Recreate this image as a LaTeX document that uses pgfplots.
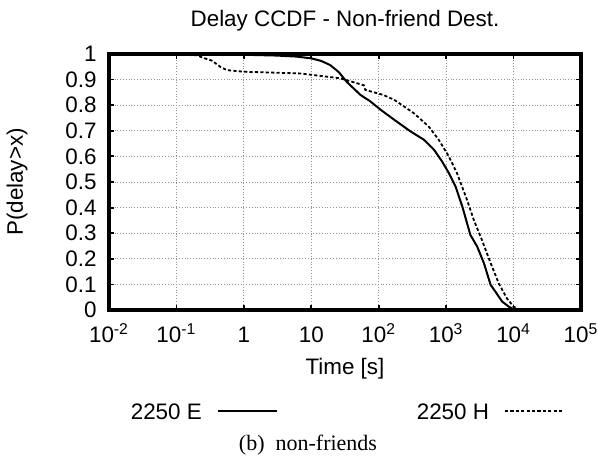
\documentclass[border=0pt]{standalone}
\usepackage{fontspec}
\setmainfont{Liberation Sans}
\newfontfamily\seriffont{Liberation Serif}
\usepackage{pgfplots}
\pgfplotsset{compat=1.18}
\begin{document}
\fontsize{11.2}{13.4}\selectfont
\begin{tikzpicture}
\path[use as bounding box] (-54.5pt,-72.5pt) rectangle (244.5pt,155pt);
\begin{axis}[
  at={(0pt,0pt)}, anchor=south west,
  scale only axis,
  width=236pt, height=128pt,
  xmode=log,
  xmin=1e-2, xmax=1e5,
  ymin=0, ymax=1,
  xtick={1e-2,1e-1,1,10,1e2,1e3,1e4,1e5},
  xticklabels={10\textsuperscript{-2},10\textsuperscript{-1},1,10,10\textsuperscript{2},10\textsuperscript{3},10\textsuperscript{4},10\textsuperscript{5}},
  ytick={0,0.1,0.2,0.3,0.4,0.5,0.6,0.7,0.8,0.9,1},
  yticklabels={0,0.1,0.2,0.3,0.4,0.5,0.6,0.7,0.8,0.9,1},
  xminorticks=false, yminorticks=false,
  /pgf/number format/assume math mode=true,
  tick align=inside,
  major tick length=2.5pt,
  tick style={line width=0.9pt, black},
  axis line style={line width=1.6pt},
  grid=major,
  major grid style={densely dotted, line width=0.45pt, gray!85},
  xticklabel style={anchor=base, yshift=-16pt, inner sep=0pt},
  yticklabel style={anchor=east, xshift=-6pt, inner sep=0pt},
  title={Delay CCDF - Non-friend Dest.},
  title style={at={(axis description cs:0.5,1)}, anchor=base, yshift=7.5pt, inner sep=0pt},
  xlabel={Time [s]},
  xlabel style={at={(axis description cs:0.5,0)}, anchor=base, yshift=-32pt, inner sep=0pt},
  ylabel={P(delay>x)},
  ylabel style={at={([xshift=-43pt]axis description cs:0,0.5)}, anchor=base, inner sep=0pt},
  legend columns=2,
  legend plot pos=right,
  legend style={draw=none, fill=none, at={(axis description cs:0.506,-0.402)}, anchor=center,
    nodes={inner sep=0pt, anchor=base},
    /tikz/every even column/.append style={column sep=69.5pt},
    /tikz/every odd column/.append style={column sep=7.5pt}},
  legend image code/.code={\draw[#1] (0pt,4pt) -- (29.5pt,4pt);},
  clip=false,
]
\addplot[black, line width=1pt] coordinates {
(0.05,1.0) (0.3,0.999) (1,0.997) (3,0.994) (6,0.99) (10,0.983)
(14,0.973) (19,0.957) (25.4,0.93) (33.9,0.89) (53.7,0.84) (75,0.815) (107,0.782)
(170,0.743) (295,0.698) (468,0.665) (661,0.626) (871,0.58)
(1096,0.535) (1380,0.482) (1738,0.404) (2042,0.339) (2291,0.293)
(2884,0.248) (3631,0.183) (4571,0.098) (5370,0.072) (6761,0.033)
(8511,0.013) (10000,0.003) (11750,0)
};
\addlegendentry{2250 E}
\addplot[black, line width=0.9pt, dash pattern=on 1.6pt off 1.1pt] coordinates {
(0.05,1.0) (0.2,0.995) (0.25,0.985) (0.336,0.974) (0.447,0.95)
(0.56,0.937) (0.885,0.932) (1.25,0.93) (6.9,0.924) (27,0.905)
(60,0.878) (63,0.86) (117,0.84) (170,0.821) (331,0.769) (550,0.717)
(776,0.665) (1096,0.6) (1445,0.535) (2042,0.43) (2570,0.352)
(3388,0.274) (4571,0.183) (6026,0.104) (7943,0.046) (10000,0.013) (12590,0)
};
\addlegendentry{2250 H}
\end{axis}
\node[anchor=base, font=\seriffont\fontsize{11}{13}\selectfont, inner sep=0pt] at (99.5pt,-70pt) {(b)\hspace{0.5em}non-friends};
\end{tikzpicture}
\end{document}
